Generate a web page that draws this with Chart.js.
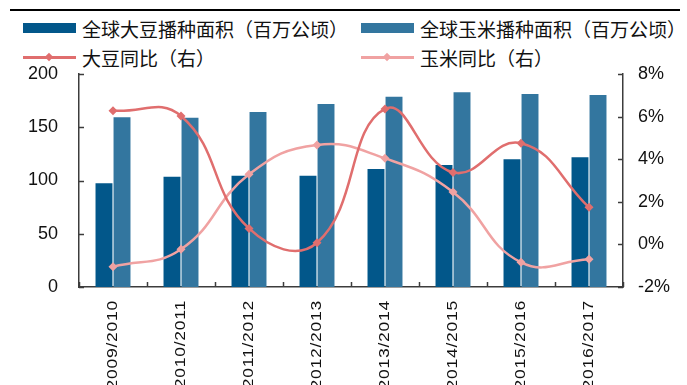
<!DOCTYPE html>
<html>
<head>
<meta charset="utf-8">
<script src="https://cdn.jsdelivr.net/npm/chart.js@4.4.1/dist/chart.umd.min.js"></script>
<style>
  html, body { margin: 0; padding: 0; background: #fff; }
  #wrap { position: relative; width: 687px; height: 385px; overflow: hidden; }
  #topRule { position: absolute; left: 10px; top: 9px; width: 670px; height: 2px; background: #000; }
  #legend { position: absolute; left: 0; top: 0; width: 687px; height: 72px;
            font-family: "Noto Sans CJK SC", "Liberation Sans", sans-serif; font-size: 19px; color: #111; }
  .lg-item { position: absolute; height: 22px; display: flex; align-items: center; white-space: nowrap; }
  .lg-swatch { position: relative; width: 53px; height: 22px; margin-right: 6px; flex: none; }
  .lg-box { position: absolute; left: 0; top: 6px; width: 53px; height: 10px; }
  .lg-line { position: absolute; left: 0; top: 10px; width: 53px; height: 3px; }
  .lg-dot { position: absolute; left: 23px; top: 8px; width: 6px; height: 6px; transform: rotate(45deg); }
  canvas { position: absolute; left: 0; top: 0; }
</style>
</head>
<body>
<div id="wrap">
  <div id="topRule"></div>
  <div id="legend"></div>
  <canvas id="chart" width="687" height="385"></canvas>
</div>
<script>
// Crop years
const categories = ['2009/2010', '2010/2011', '2011/2012', '2012/2013',
                    '2013/2014', '2014/2015', '2015/2016', '2016/2017'];
// Planted area, million hectares
const soyArea  = [97.4, 103.6, 104.5, 104.5, 110.8, 114.6, 119.9, 121.8];
const cornArea = [159.3, 159.0, 164.3, 171.8, 178.7, 182.8, 181.2, 180.3];
// Year-on-year change, %
const soyYoY  = [6.28, 6.03, 0.75, 0.08, 6.36, 3.38, 4.75, 1.74];
const cornYoY = [-1.05, -0.23, 3.29, 4.67, 4.04, 2.46, -0.84, -0.70];
// Axis ticks
const leftTicks  = [0, 50, 100, 150, 200];
const rightTicks = [-2, 0, 2, 4, 6, 8];

const SOY_BAR = '#02578a', CORN_BAR = '#33769f';
const SOY_LINE = '#e06e6e', CORN_LINE = '#f0a2a2';
const AXIS = '#3c3c3c';
const LATIN = '"Liberation Sans", Arial, sans-serif';

// Legend laid out as a two-column grid above the plot
const legendSlots = [
  { left: 23, top: 17 }, { left: 361, top: 17 },
  { left: 23, top: 46 }, { left: 361, top: 46 }
];
const htmlLegend = {
  id: 'htmlLegend',
  afterUpdate(chart) {
    const box = document.getElementById('legend');
    box.innerHTML = '';
    chart.data.datasets.forEach((ds, i) => {
      const slot = legendSlots[i];
      const item = document.createElement('div');
      item.className = 'lg-item';
      item.style.left = slot.left + 'px';
      item.style.top = slot.top + 'px';
      const sw = document.createElement('div');
      sw.className = 'lg-swatch';
      if (ds.type === 'line') {
        const ln = document.createElement('div');
        ln.className = 'lg-line';
        ln.style.background = ds.borderColor;
        const dot = document.createElement('div');
        dot.className = 'lg-dot';
        dot.style.background = ds.borderColor;
        sw.appendChild(ln); sw.appendChild(dot);
      } else {
        const b = document.createElement('div');
        b.className = 'lg-box';
        b.style.background = ds.backgroundColor;
        sw.appendChild(b);
      }
      const txt = document.createElement('span');
      txt.textContent = ds.label;
      item.appendChild(sw); item.appendChild(txt);
      box.appendChild(item);
    });
  }
};

// Inward tick marks and rotated category labels
const axisDecor = {
  id: 'axisDecor',
  afterDraw(chart) {
    const ctx = chart.ctx;
    const x = chart.scales.x, y = chart.scales.y, y2 = chart.scales.y2;
    ctx.save();
    ctx.strokeStyle = AXIS;
    ctx.lineWidth = 1.5;
    ctx.beginPath();
    y.ticks.forEach(t => {
      const py = Math.round(y.getPixelForValue(t.value)) + 0.5;
      ctx.moveTo(x.left, py); ctx.lineTo(x.left + 5, py);
    });
    y2.ticks.forEach(t => {
      const py = Math.round(y2.getPixelForValue(t.value)) + 0.5;
      ctx.moveTo(x.right, py); ctx.lineTo(x.right - 5, py);
    });
    for (let i = 0; i <= categories.length; i++) {
      const px = Math.round(x.getPixelForValue(i - 0.5)) + 0.5;
      ctx.moveTo(px, y.bottom); ctx.lineTo(px, y.bottom - 5);
    }
    ctx.stroke();

    ctx.fillStyle = '#111';
    ctx.font = '14px ' + LATIN;
    ctx.textAlign = 'right';
    ctx.textBaseline = 'middle';
    ctx.letterSpacing = '0.6px';
    categories.forEach((c, i) => {
      ctx.save();
      ctx.translate(x.getPixelForValue(i), y.bottom + 13);
      ctx.rotate(-Math.PI / 2);
      ctx.scale(1.25, 1);
      ctx.fillText(c, 0, 0);
      ctx.restore();
    });
    ctx.restore();
  }
};

new Chart(document.getElementById('chart'), {
  data: {
    labels: categories,
    datasets: [
      { type: 'bar', label: '全球大豆播种面积（百万公顷）', data: soyArea,
        backgroundColor: SOY_BAR, yAxisID: 'y', order: 2,
        categoryPercentage: 0.53, barPercentage: 0.94 },
      { type: 'bar', label: '全球玉米播种面积（百万公顷）', data: cornArea,
        backgroundColor: CORN_BAR, yAxisID: 'y', order: 2,
        categoryPercentage: 0.53, barPercentage: 0.94 },
      { type: 'line', label: '大豆同比（右）', data: soyYoY,
        borderColor: SOY_LINE, backgroundColor: SOY_LINE, borderWidth: 2.5,
        pointStyle: 'rectRot', pointRadius: 4.5, pointBorderWidth: 0,
        tension: 0.45, yAxisID: 'y2', order: 0 },
      { type: 'line', label: '玉米同比（右）', data: cornYoY,
        borderColor: CORN_LINE, backgroundColor: CORN_LINE, borderWidth: 2.5,
        pointStyle: 'rectRot', pointRadius: 4.5, pointBorderWidth: 0,
        tension: 0.45, yAxisID: 'y2', order: 1 }
    ]
  },
  options: {
    responsive: false,
    animation: false,
    devicePixelRatio: 1,
    layout: { padding: { top: 74, left: 0, right: 0, bottom: 0 } },
    plugins: { legend: { display: false }, tooltip: { enabled: false } },
    scales: {
      x: {
        type: 'category', offset: true,
        grid: { display: false, drawTicks: false },
        border: { display: true, color: AXIS, width: 1.5 },
        ticks: { display: false },
        afterFit(s) { s.height = 98; }
      },
      y: {
        position: 'left', min: 0, max: 200,
        afterBuildTicks(s) { s.ticks = leftTicks.map(v => ({ value: v })); },
        grid: { display: false, drawTicks: false },
        border: { display: true, color: AXIS, width: 1.5 },
        ticks: { padding: 21, color: '#111', font: { family: LATIN, size: 18 } },
        afterFit(s) { s.width = 79; }
      },
      y2: {
        position: 'right', min: -2, max: 8,
        afterBuildTicks(s) { s.ticks = rightTicks.map(v => ({ value: v })); },
        grid: { display: false, drawTicks: false },
        border: { display: true, color: AXIS, width: 1.5 },
        ticks: { padding: 15, color: '#111', font: { family: LATIN, size: 18 },
                 callback: v => v + '%' },
        afterFit(s) { s.width = 64; }
      }
    }
  },
  plugins: [htmlLegend, axisDecor]
});
</script>
</body>
</html>
